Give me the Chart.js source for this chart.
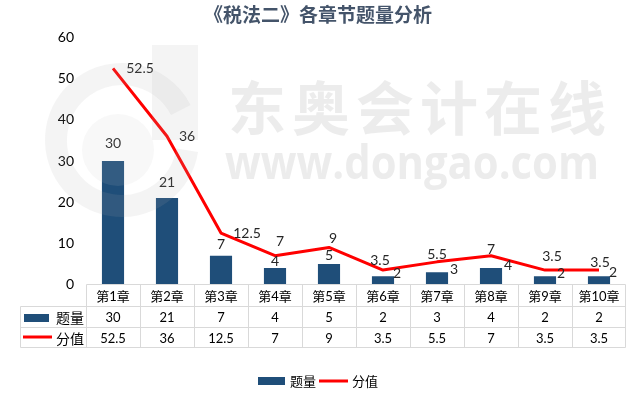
<!DOCTYPE html>
<html>
<head>
<meta charset="utf-8">
<script src="https://cdn.jsdelivr.net/npm/chart.js@4/dist/chart.umd.min.js"></script>
<style>
  html, body { margin: 0; padding: 0; background: #fff; }
  #wrap { width: 641px; height: 396px; position: relative; }
</style>
</head>
<body>
<div id="wrap"><canvas id="c" width="641" height="396"></canvas></div>
<script>
// ---- data ----
const chartTitle = '《税法二》各章节题量分析';
const categories = ['第1章','第2章','第3章','第4章','第5章','第6章','第7章','第8章','第9章','第10章'];
const questionCounts = [30, 21, 7, 4, 5, 2, 3, 4, 2, 2];
const scores = [52.5, 36, 12.5, 7, 9, 3.5, 5.5, 7, 3.5, 3.5];
const seriesNames = ['题量', '分值'];
const yTickValues = [0, 10, 20, 30, 40, 50, 60];

// ---- label placement (styling, pixels) ----
const barLabelOffsets = [[0,-18],[0,-16],[0,-11],[0,-7],[0,-8],[14,-3],[17,-3],[17,-3],[16,-3],[14,-4]];
const lineLabelOffsets = [[27,0],[20,0],[26,0],[5,-14],[4,-9],[-3,-10],[0,-7],[0,-6],[7,-14],[1,-8]];

const BAR_COLOR = '#1f4e79';
const LINE_COLOR = '#ff0000';
const GRID_COLOR = '#d9d9d9';
const NUM_FONT = 'Lato, "Noto Sans CJK SC", sans-serif';
const CJK_FONT = '"Noto Sans CJK SC", sans-serif';

const tablePlugin = {
  id: 'tableAndDecor',
  afterDatasetsDraw(chart) {
    const ctx = chart.ctx;
    const x = chart.scales.x;
    const y = chart.scales.y;
    const area = chart.chartArea;
    ctx.save();
    // data labels
    ctx.fillStyle = '#262626';
    ctx.font = '14px ' + NUM_FONT;
    ctx.textAlign = 'center';
    ctx.textBaseline = 'middle';
    questionCounts.forEach((v, i) => {
      const px = x.getPixelForValue(i) + barLabelOffsets[i][0];
      const py = y.getPixelForValue(v) + barLabelOffsets[i][1];
      ctx.fillText(String(v), px, py);
    });
    scores.forEach((v, i) => {
      const px = x.getPixelForValue(i) + lineLabelOffsets[i][0];
      const py = y.getPixelForValue(v) + lineLabelOffsets[i][1];
      ctx.fillText(String(v), px, py);
    });

    // data table
    const colW = (area.right - area.left) / categories.length;
    const r0 = Math.round(area.bottom) - 0.5;
    const r1 = r0 + 22, r2 = r1 + 21, r3 = r2 + 20;
    const labelLeft = 20.5;
    const L = Math.round(area.left) + 0.5;
    const R = Math.round(area.right) - 0.5;
    ctx.strokeStyle = GRID_COLOR;
    ctx.lineWidth = 1;
    ctx.beginPath();
    ctx.moveTo(L, r0); ctx.lineTo(R, r0);
    [r1, r2, r3].forEach(r => { ctx.moveTo(labelLeft, r); ctx.lineTo(R, r); });
    ctx.moveTo(labelLeft, r1); ctx.lineTo(labelLeft, r3);
    for (let i = 0; i <= categories.length; i++) {
      const cx = Math.round(area.left + i * colW) + 0.5;
      const xx = i === categories.length ? R : cx;
      ctx.moveTo(xx, r0); ctx.lineTo(xx, r3);
    }
    ctx.stroke();

    ctx.fillStyle = '#000';
    ctx.textAlign = 'center';
    ctx.textBaseline = 'middle';
    ctx.font = '13px ' + NUM_FONT;
    categories.forEach((c, i) => {
      const cx = x.getPixelForValue(i);
      ctx.fillText(c, cx, (r0 + r1) / 2 + 1);
      ctx.fillText(String(questionCounts[i]), cx, (r1 + r2) / 2 + 1);
      ctx.fillText(String(scores[i]), cx, (r2 + r3) / 2 + 1);
    });
    // row legend keys
    ctx.fillStyle = BAR_COLOR;
    ctx.fillRect(24, 314, 25, 8);
    ctx.strokeStyle = LINE_COLOR;
    ctx.lineWidth = 3;
    ctx.beginPath(); ctx.moveTo(23, 337); ctx.lineTo(52, 337); ctx.stroke();
    ctx.fillStyle = '#000';
    ctx.textAlign = 'left';
    ctx.font = '14px ' + CJK_FONT;
    ctx.fillText(seriesNames[0], 56, (r1 + r2) / 2 + 1);
    ctx.fillText(seriesNames[1], 56, (r2 + r3) / 2 + 1);

    // bottom legend
    ctx.fillStyle = BAR_COLOR;
    ctx.fillRect(258, 377, 27, 8);
    ctx.fillStyle = '#000';
    ctx.font = '13px ' + CJK_FONT;
    ctx.fillText(seriesNames[0], 290, 381);
    ctx.strokeStyle = LINE_COLOR;
    ctx.lineWidth = 3;
    ctx.beginPath(); ctx.moveTo(319, 381); ctx.lineTo(348, 381); ctx.stroke();
    ctx.fillText(seriesNames[1], 352, 381);

    // title
    ctx.fillStyle = '#44546a';
    ctx.textAlign = 'center';
    ctx.font = 'bold 19px ' + CJK_FONT;
    ctx.fillText(chartTitle, 318, 15);
    ctx.restore();
  },
  afterDraw(chart) {
    // faint watermark overlay
    const ctx = chart.ctx;
    ctx.save();
    ctx.fillStyle = 'rgba(170,170,170,0.13)';
    ctx.strokeStyle = 'rgba(170,170,170,0.13)';
    // logo
    ctx.lineWidth = 22;
    ctx.beginPath();
    ctx.arc(122, 140, 66, Math.PI * 0.05, Math.PI * 1.85);
    ctx.stroke();
    ctx.fillRect(152, 45, 46, 95);
    ctx.fillStyle = 'rgba(200,200,200,0.12)';
    ctx.beginPath();
    ctx.arc(118, 150, 36, 0, Math.PI * 2);
    ctx.fill();
    // texts
    ctx.fillStyle = 'rgba(170,170,170,0.22)';
    ctx.textAlign = 'center';
    ctx.textBaseline = 'middle';
    ctx.font = 'bold 58px ' + CJK_FONT;
    const wm = '东奥会计在线';
    for (let i = 0; i < wm.length; i++) {
      ctx.fillText(wm[i], 257 + i * 64, 108);
    }
    ctx.font = 'bold 46px "Open Sans", sans-serif';
    const url = 'www.dongao.com';
    const w = ctx.measureText(url).width;
    const target = 374;
    const sc = target / w;
    ctx.translate(225, 166);
    ctx.scale(sc, 1);
    ctx.textAlign = 'left';
    ctx.fillText(url, 0, 0);
    ctx.restore();
  }
};

new Chart(document.getElementById('c'), {
  data: {
    labels: categories,
    datasets: [
      {
        type: 'line',
        label: seriesNames[1],
        data: scores,
        borderColor: LINE_COLOR,
        backgroundColor: LINE_COLOR,
        borderWidth: 3,
        pointRadius: 0,
        tension: 0,
        borderJoinStyle: 'round',
        order: 1
      },
      {
        type: 'bar',
        label: seriesNames[0],
        data: questionCounts,
        backgroundColor: BAR_COLOR,
        barPercentage: 0.41,
        categoryPercentage: 1,
        order: 2
      }
    ]
  },
  options: {
    responsive: false,
    animation: false,
    layout: { padding: { left: 0, right: 15, top: 37.5, bottom: 111.5 } },
    plugins: { legend: { display: false }, tooltip: { enabled: false }, title: { display: false } },
    scales: {
      x: {
        type: 'category',
        offset: true,
        display: false,
        grid: { display: false }
      },
      y: {
        min: 0,
        max: 60,
        afterBuildTicks: (s) => { s.ticks = yTickValues.map(v => ({ value: v })); },
        afterFit: (s) => { s.width = 86; },
        grid: { display: false, drawTicks: false },
        border: { display: false },
        ticks: {
          padding: 12,
          color: '#000',
          font: { family: 'Lato', size: 14 }
        }
      }
    }
  },
  plugins: [tablePlugin]
});
</script>
</body>
</html>
